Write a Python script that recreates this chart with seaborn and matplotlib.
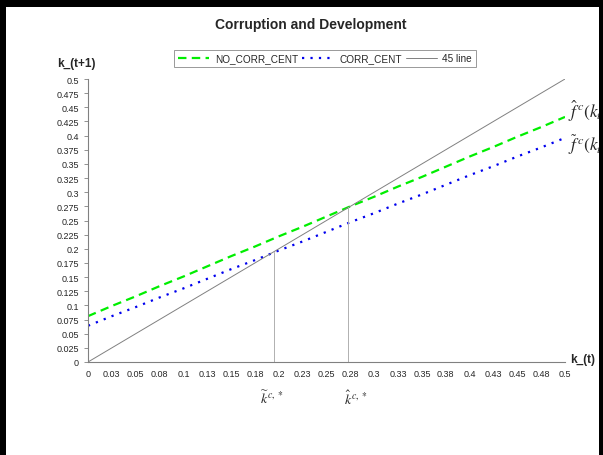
import numpy as np
import pandas as pd
import seaborn as sns
import matplotlib.pyplot as plt
from matplotlib.patches import Rectangle

#data
k_t = [0, 0.025, 0.05, 0.075, 0.1, 0.125, 0.15, 0.175, 0.2, 0.225, 0.25,
       0.275, 0.3, 0.325, 0.35, 0.375, 0.4, 0.425, 0.45, 0.475, 0.5]
no_corr_cent = [0.081, 0.099, 0.116, 0.134, 0.151, 0.169, 0.187, 0.204, 0.222, 0.239, 0.257,
                0.275, 0.292, 0.310, 0.327, 0.345, 0.363, 0.380, 0.398, 0.415, 0.433]
corr_cent = [0.064, 0.081, 0.097, 0.114, 0.130, 0.147, 0.164, 0.180, 0.197, 0.213, 0.230,
             0.247, 0.263, 0.280, 0.296, 0.313, 0.330, 0.346, 0.363, 0.379, 0.396]
line45 = [0, 0.025, 0.05, 0.075, 0.1, 0.125, 0.15, 0.175, 0.2, 0.225, 0.25,
          0.275, 0.3, 0.325, 0.35, 0.375, 0.4, 0.425, 0.45, 0.475, 0.5]
x_labels = ["0", "0.03", "0.05", "0.08", "0.1", "0.13", "0.15", "0.18", "0.2", "0.23", "0.25",
            "0.28", "0.3", "0.33", "0.35", "0.38", "0.4", "0.43", "0.45", "0.48", "0.5"]
y_labels = ["0", "0.025", "0.05", "0.075", "0.1", "0.125", "0.15", "0.175", "0.2", "0.225", "0.25",
            "0.275", "0.3", "0.325", "0.35", "0.375", "0.4", "0.425", "0.45", "0.475", "0.5"]
# steady states (where curves cross the 45 line)
k_tilde = 0.195
k_hat = 0.273

df = pd.DataFrame({"k_t": k_t, "NO_CORR_CENT": no_corr_cent, "CORR_CENT": corr_cent, "45 line": line45})

sns.set_style("white")
plt.rcParams['font.family'] = ['Liberation Sans', 'DejaVu Sans']
plt.rcParams['mathtext.fontset'] = 'stix'

fig = plt.figure(figsize=(6.03, 4.56), dpi=100)
ax = fig.add_axes([88/603, 1-363/456, 477/603, 283/456])

sns.lineplot(data=df, x="k_t", y="NO_CORR_CENT", ax=ax, color="#00ee00", lw=1.6,
             label="NO_CORR_CENT")
sns.lineplot(data=df, x="k_t", y="CORR_CENT", ax=ax, color="#0000ee", lw=1.6,
             label="CORR_CENT")
sns.lineplot(data=df, x="k_t", y="45 line", ax=ax, color="#808080", lw=0.7,
             label="45 line")
ax.lines[0].set_dashes([3.8, 2.4])
ax.lines[1].set_dashes([1, 2.8])

#vertical guides
ax.plot([k_tilde, k_tilde], [0, k_tilde], color="#b0b0b0", lw=0.7)
ax.plot([k_hat, k_hat], [0, k_hat], color="#b0b0b0", lw=0.7)

ax.set_xlim(0, 0.5)
ax.set_ylim(0, 0.5)
ax.set_xticks(k_t)
ax.set_xticklabels(x_labels)
ax.set_yticks(line45)
ax.set_yticklabels(y_labels)
ax.tick_params(axis="x", length=0, pad=5, labelsize=6.5)
ax.tick_params(axis="y", length=3, width=0.6, color="#808080", labelsize=6.5, left=True)
ax.set_xlabel("")
ax.set_ylabel("")
for s in ["top", "right"]:
    ax.spines[s].set_visible(False)
for s in ["left", "bottom"]:
    ax.spines[s].set_color("#808080")
    ax.spines[s].set_linewidth(0.8)

leg = ax.legend(loc="center", bbox_to_anchor=(325/603, 1-59/456), bbox_transform=fig.transFigure,
                ncol=3, fontsize=7.2, frameon=True, fancybox=False, handlelength=3.1,
                columnspacing=0.4, handletextpad=0.6, borderpad=0.35, edgecolor="#808080")
leg.get_frame().set_linewidth(0.7)

#texts
fig.text(311/603, 1-25/456, "Corruption and Development", ha="center", va="center",
         fontsize=10, fontweight="bold")
fig.text(76/603, 1-64/456, "k_(t+1)", ha="center", va="center", fontsize=8.5, fontweight="bold")
fig.text(570/603, 1-360/456, "k_(t)", ha="left", va="center", fontsize=8.5, fontweight="bold")
# right-hand curve labels, cut by the frame as in the original
fig.text(568/603, 1-111/456, r"$\hat{f}^{\,c}(k_t$", ha="left", va="center", fontsize=12.5)
fig.text(568/603, 1-145/456, r"$\widetilde{f}^{\,c}(k_t$", ha="left", va="center", fontsize=12.5)
ax.text(k_tilde - 0.002, -0.063, r"$\widetilde{k}^{\,c,*}$", ha="center", va="center", fontsize=10)
ax.text(k_hat + 0.008, -0.063, r"$\hat{k}^{\,c,*}$", ha="center", va="center", fontsize=10)

#black frame
for r in [(0, 0, 6/603, 1), (0, 1-8/456, 1, 8/456), (1-4/603, 0, 4/603, 1)]:
    fig.add_artist(Rectangle((r[0], r[1]), r[2], r[3], transform=fig.transFigure,
                             facecolor="black", edgecolor="none", zorder=10))

plt.savefig("out.png", dpi=100)
